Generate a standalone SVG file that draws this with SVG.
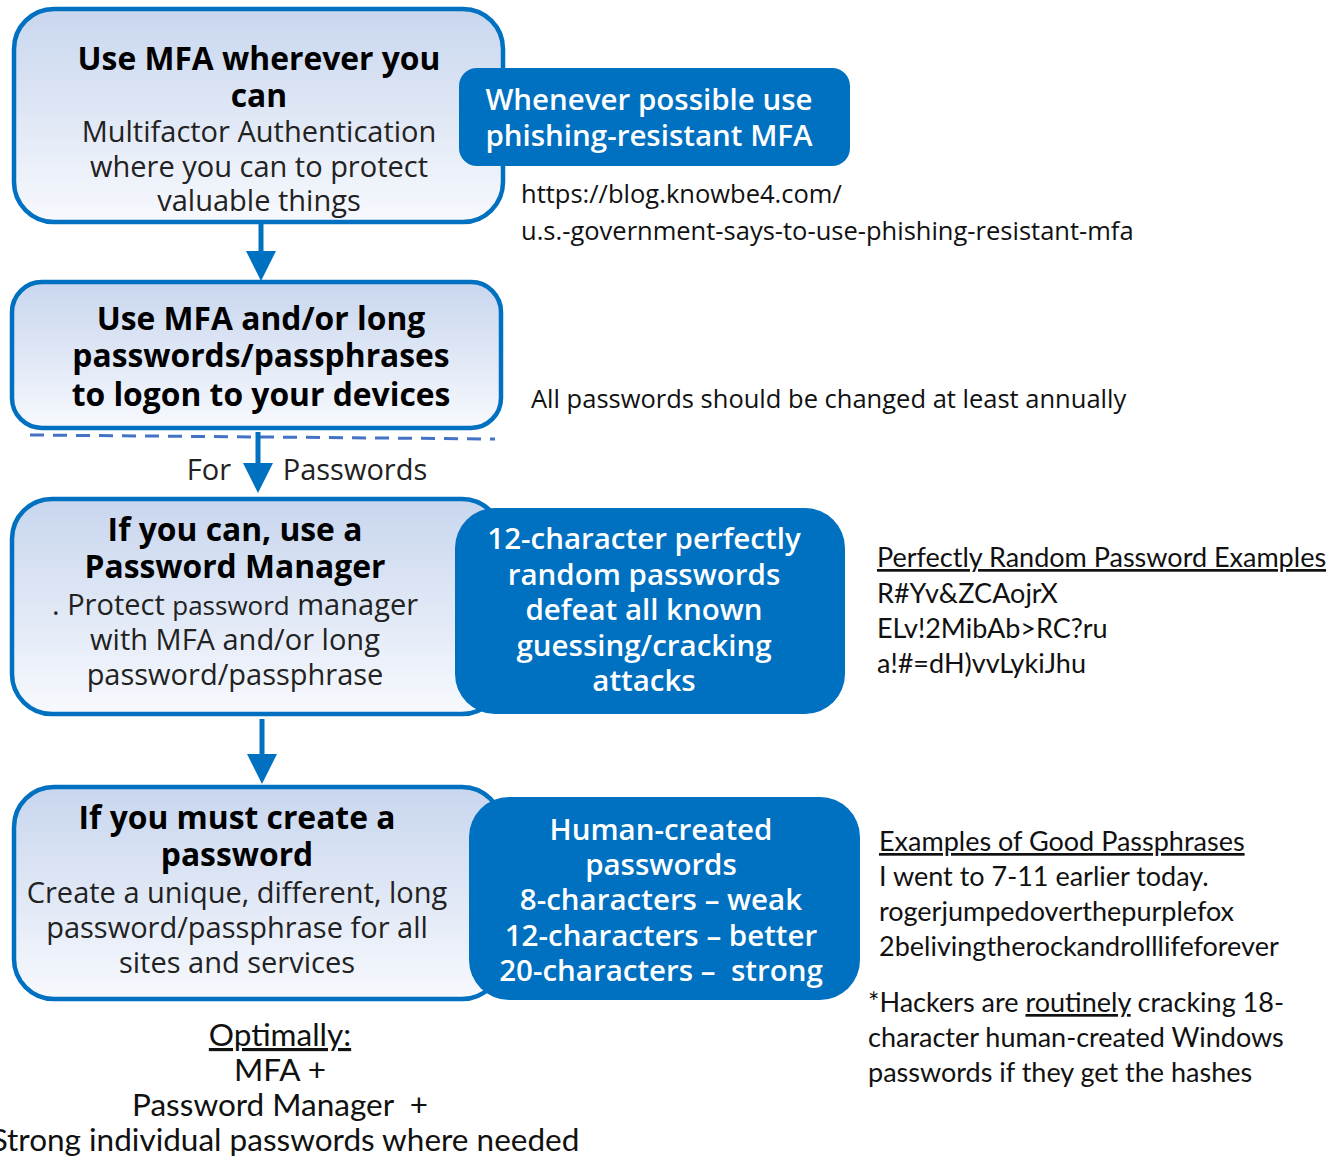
<svg xmlns="http://www.w3.org/2000/svg" width="1330" height="1158" viewBox="0 0 1330 1158">
<defs>
<linearGradient id="g" x1="0" y1="0" x2="0" y2="1">
<stop offset="0" stop-color="#c8d6ee"/>
<stop offset="1" stop-color="#f7f9fd"/>
</linearGradient>
<marker id="ah" markerWidth="6" markerHeight="6" refX="3" refY="3" orient="auto" markerUnits="strokeWidth">
<path d="M0,0 L6,3 L0,6 z" fill="#0070c0"/>
</marker>
<style>
.node{fill:url(#g);stroke:#0070c0;stroke-width:4.5}
.blue{fill:#0070c0}
.b{font-family:"Open Sans",sans-serif;font-weight:bold;font-size:31.8px;fill:#000;text-anchor:middle}
.r{font-family:"Open Sans",sans-serif;font-size:29px;fill:#222;text-anchor:middle}
.w{font-family:"Open Sans",sans-serif;font-weight:600;font-size:29.5px;fill:#fff;text-anchor:middle}
.s{font-family:"Open Sans",sans-serif;font-size:25.5px;fill:#111}
.c{font-family:Lato,"Liberation Sans",sans-serif;font-size:27px;fill:#111}
.cc{font-family:Lato,"Liberation Sans",sans-serif;font-size:31.5px;fill:#111;text-anchor:middle}
.conn{stroke:#0070c0;stroke-width:5;fill:none}
</style>
</defs>
<rect width="1330" height="1158" fill="#fff"/>

<g id="connectors">
<line class="conn" x1="261" y1="224" x2="261" y2="266" marker-end="url(#ah)"/>
<line x1="30" y1="435" x2="495" y2="439" stroke="#4472c4" stroke-width="3" stroke-dasharray="14,9"/>
<line class="conn" x1="258" y1="432" x2="258" y2="478" marker-end="url(#ah)"/>
<line class="conn" x1="262" y1="719" x2="262" y2="769" marker-end="url(#ah)"/>
</g>

<g id="node-mfa">
<rect class="node" x="14" y="9" width="489" height="213" rx="40"/>
<text class="b" x="259" y="70">Use MFA wherever you</text>
<text class="b" x="259" y="107">can</text>
<text class="r" x="259" y="142">Multifactor Authentication</text>
<text class="r" x="259" y="177">where you can to protect</text>
<text class="r" x="259" y="211">valuable things</text>
</g>

<g id="node-phishing">
<rect class="blue" x="459" y="68" width="391" height="98" rx="18"/>
<text class="w" x="649" y="110">Whenever possible use</text>
<text class="w" x="649" y="146">phishing-resistant MFA</text>
</g>

<g id="note-url">
<text class="s" x="521" y="203">https://blog.knowbe4.com/</text>
<text class="s" x="521" y="240">u.s.-government-says-to-use-phishing-resistant-mfa</text>
</g>

<g id="node-devices">
<rect class="node" x="12" y="282" width="489" height="146" rx="30"/>
<text class="b" x="261" y="330">Use MFA and/or long</text>
<text class="b" x="261" y="367">passwords/passphrases</text>
<text class="b" x="261" y="406">to logon to your devices</text>
</g>

<g id="note-annual">
<text class="s" x="531" y="408">All passwords should be changed at least annually</text>
</g>

<g id="label-for-passwords">
<text class="r" x="209" y="480" font-size="33">For</text>
<text class="r" x="355" y="480" font-size="33">Passwords</text>
</g>

<g id="node-manager">
<rect class="node" x="12" y="499" width="490" height="215" rx="40"/>
<text class="b" x="235" y="541">If you can, use a</text>
<text class="b" x="235" y="578">Password Manager</text>
<text class="r" x="235" y="615">. Protect <tspan font-size="26">password</tspan> manager</text>
<text class="r" x="235" y="650">with MFA and/or long</text>
<text class="r" x="235" y="685">password/passphrase</text>
</g>

<g id="node-random">
<rect class="blue" x="455" y="508" width="390" height="206" rx="40"/>
<text class="w" x="644" y="549">12-character perfectly</text>
<text class="w" x="644" y="585">random passwords</text>
<text class="w" x="644" y="620">defeat all known</text>
<text class="w" x="644" y="656">guessing/cracking</text>
<text class="w" x="644" y="691">attacks</text>
</g>

<g id="note-random-examples">
<text class="c" x="877" y="567" text-decoration="underline">Perfectly Random Password Examples</text>
<text class="c" x="877" y="603">R#Yv&amp;ZCAojrX</text>
<text class="c" x="877" y="638">ELv!2MibAb&gt;RC?ru</text>
<text class="c" x="877" y="673">a!#=dH)vvLykiJhu</text>
</g>

<g id="node-create">
<rect class="node" x="14" y="787" width="488" height="212" rx="40"/>
<text class="b" x="237" y="829">If you must create a</text>
<text class="b" x="237" y="866">password</text>
<text class="r" x="237" y="903">Create a unique, different, long</text>
<text class="r" x="237" y="938">password/passphrase for all</text>
<text class="r" x="237" y="973">sites and services</text>
</g>

<g id="node-human">
<rect class="blue" x="469" y="797" width="391" height="203" rx="40"/>
<text class="w" x="661" y="840">Human-created</text>
<text class="w" x="661" y="875">passwords</text>
<text class="w" x="661" y="910">8-characters – weak</text>
<text class="w" x="661" y="946">12-characters – better</text>
<text class="w" x="661" y="981" xml:space="preserve">20-characters –  strong</text>
</g>

<g id="note-passphrases">
<text class="c" x="879" y="851" text-decoration="underline">Examples of Good Passphrases</text>
<text class="c" x="879" y="886">I went to 7-11 earlier today.</text>
<text class="c" x="879" y="921">rogerjumpedoverthepurplefox</text>
<text class="c" x="879" y="956">2belivingtherockandrolllifeforever</text>
<text class="c" x="868" y="1012">*Hackers are <tspan text-decoration="underline">routinely</tspan> cracking 18-</text>
<text class="c" x="868" y="1047">character human-created Windows</text>
<text class="c" x="868" y="1082">passwords if they get the hashes</text>
</g>

<g id="note-optimally">
<text class="cc" x="280" y="1046" text-decoration="underline">Optimally:</text>
<text class="cc" x="280" y="1081">MFA +</text>
<text class="cc" x="280" y="1116" xml:space="preserve">Password Manager  +</text>
<text class="cc" x="285" y="1151">Strong individual passwords where needed</text>
</g>
</svg>
